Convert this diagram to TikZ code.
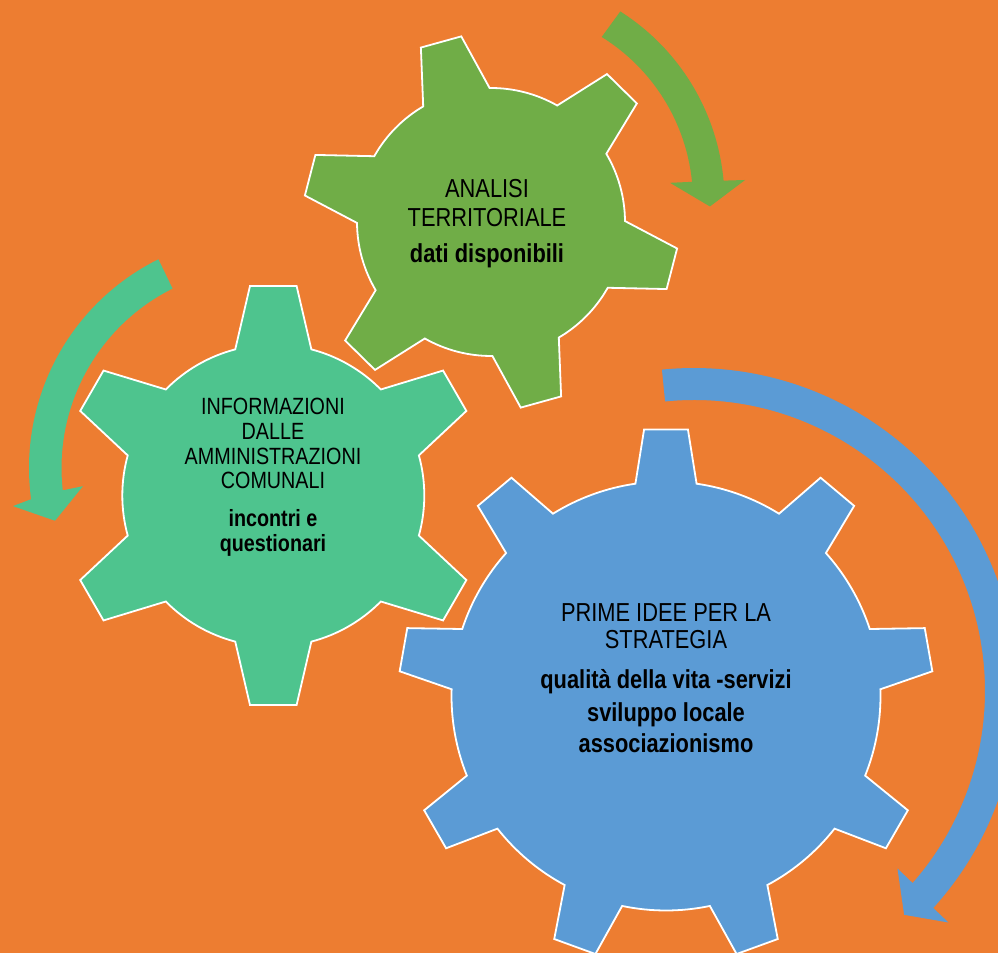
\documentclass[tikz,border=0pt]{standalone}
\usepackage{fontspec}
\setmainfont{Liberation Sans}[FakeStretch=0.84]
\definecolor{bgorange}{HTML}{ED7D31}
\definecolor{coggreen}{HTML}{70AD47}
\definecolor{cogteal}{HTML}{4EC48E}
\definecolor{cogblue}{HTML}{5B9BD5}

\begin{document}
\begin{tikzpicture}[
        x=1pt, y=1pt,
        cog/.style={draw=white, line width=1.8pt},
        cogtext/.style={align=center, anchor=north, inner sep=0pt, text=black},
        cycarrow/.style={draw=none}
    ]
        \useasboundingbox (0,0) rectangle (998,953);
        \clip (0,0) rectangle (998,953);
        \fill[bgorange] (0,0) rectangle (998,953);

        \coordinate (greenhub) at (491,731);
        \coordinate (tealhub) at (273.3,457.5);
        \coordinate (bluehub) at (666,257);

        % Circular arrows
        \begin{scope}[shift={(500,752)}]
            \fill[cycarrow, coggreen] (58.2:193) arc[start angle=58.2, end angle=5.7, radius=193]
                -- (6.1:171) -- (-1.5:210) -- (4.9:246) -- (5.2:224.5)
                arc[start angle=5.2, end angle=57.6, radius=224.5] -- cycle;
        \end{scope}
        \begin{scope}[shift={(262,485)}]
            \fill[cycarrow, cogteal] (116.5:200.5) arc[start angle=116.5, end angle=186.4, radius=200.5]
                -- (185.8:180) -- (194.3:213.6) -- (188.7:252) -- (187.7:233)
                arc[start angle=187.7, end angle=116.4, radius=233] -- cycle;
        \end{scope}
        \begin{scope}[shift={(694,262)}]
            \fill[cycarrow, cogblue] (95.7:291) arc[start angle=95.7, end angle=-41.3, radius=291]
                -- (-41.1:270) -- (-46.8:307) -- (-42.3:344) -- (-42.2:323)
                arc[start angle=-42.2, end angle=95.7, radius=323] -- cycle;
        \end{scope}

        % Gears
        \begin{scope}[shift={(greenhub)}, rotate=105.5]
            \filldraw[cog, fill=coggreen] (-14.9:134)
                \foreach \a in {0,60,...,300} {
                    -- (\a-6.4:188) -- (\a+6.4:188) -- (\a+14.9:134)
                    arc[start angle=\a+14.9, end angle=\a+45.1, radius=134]
                } -- cycle;
        \end{scope}
        \begin{scope}[shift={(tealhub)}, rotate=90]
            \filldraw[cog, fill=cogteal] (-14.6:151)
                \foreach \a in {0,60,...,300} {
                    -- (\a-6.35:210.8) -- (\a+6.35:210.8) -- (\a+14.6:151)
                    arc[start angle=\a+14.6, end angle=\a+45.4, radius=151]
                } -- cycle;
        \end{scope}
        \begin{scope}[shift={(bluehub)}, rotate=90]
            \filldraw[cog, fill=cogblue] (-8.2:214.5)
                \foreach \a in {0,40,...,320} {
                    -- (\a-4.7:267.5) -- (\a+4.7:267.5) -- (\a+8.2:214.5)
                    arc[start angle=\a+8.2, end angle=\a+31.8, radius=214.5]
                } -- cycle;
        \end{scope}

        % Texts
        \node[cogtext, font=\fontsize{26}{29.5}\selectfont] (analisi) at (487,774.2)
            {ANALISI\\TERRITORIALE\\[6pt]\textbf{dati disponibili}};
        \node[cogtext, font=\fontsize{23.5}{24.7}\selectfont] (informazioni) at (273,555)
            {INFORMAZIONI\\DALLE\\AMMINISTRAZIONI\\COMUNALI\\[13pt]\textbf{incontri e}\\\textbf{questionari}};
        \node[cogtext, font=\fontsize{26}{27}\selectfont] (idee) at (666,350)
            {PRIME IDEE PER LA\\STRATEGIA\\[13pt]\textbf{qualità della vita -servizi}\\[6pt]\textbf{sviluppo locale}\\[4pt]\textbf{associazionismo}};
    \end{tikzpicture}
\end{document}
